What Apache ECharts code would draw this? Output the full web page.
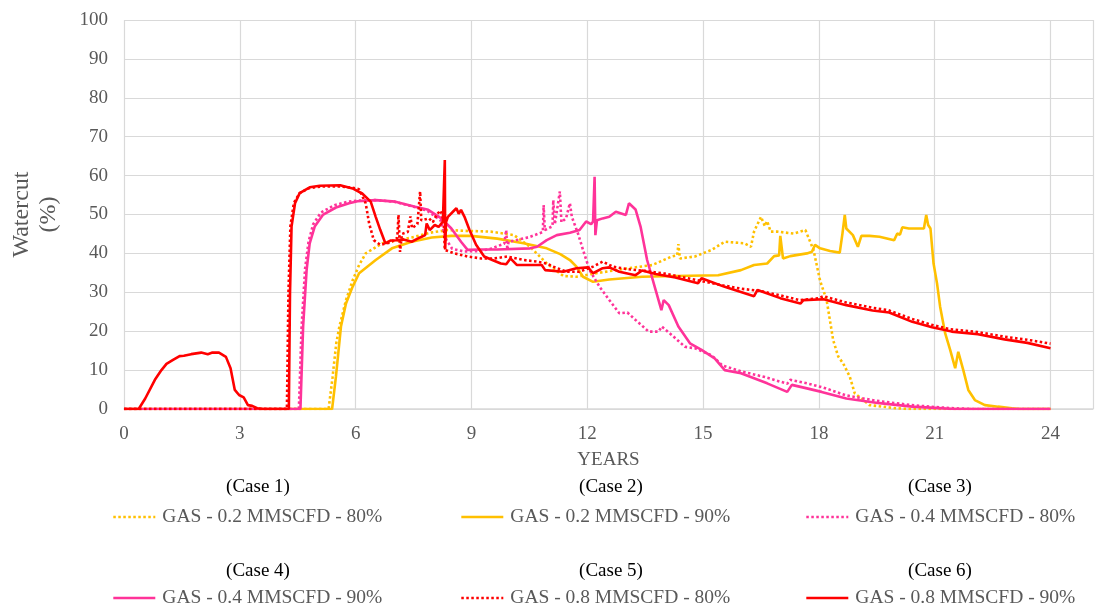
<!DOCTYPE html>
<html>
<head>
<meta charset="utf-8">
<script src="https://cdn.jsdelivr.net/npm/echarts@6/dist/echarts.min.js"></script>
<style>
  html, body { margin: 0; padding: 0; background: #ffffff; }
  #chart { width: 1096px; height: 607px; }
</style>
</head>
<body>
<div id="chart"></div>
<script>
// Watercut (%) against production time (years) for six gas-lift cases.
const seriesNames = [
  'GAS - 0.2 MMSCFD - 80%',
  'GAS - 0.2 MMSCFD - 90%',
  'GAS - 0.4 MMSCFD - 80%',
  'GAS - 0.4 MMSCFD - 90%',
  'GAS - 0.8 MMSCFD - 80%',
  'GAS - 0.8 MMSCFD - 90%'
];
const caseLabels = ['(Case 1)', '(Case 2)', '(Case 3)', '(Case 4)', '(Case 5)', '(Case 6)'];
const xTicks = [0, 3, 6, 9, 12, 15, 18, 21, 24];
const yTicks = [0, 10, 20, 30, 40, 50, 60, 70, 80, 90, 100];

// [years, watercut %]
const case1 = [[0,0],[5.3,0],[5.4,8],[5.5,17],[5.58,21.2],[5.75,28.0],[5.92,33],[6.09,37.0],[6.26,40.0],[6.69,42.6],[7.45,44.1],[7.97,45.4],[8.39,46.0],[8.82,45.8],[9.5,45.6],[10.1,44.7],[10.52,41.7],[10.95,37.4],[11.38,34.2],[11.72,34.0],[12.23,34.9],[12.74,35.7],[13.08,36.2],[13.68,37.0],[14.19,39.2],[14.33,39.5],[14.36,42.4],[14.4,38.7],[14.79,39.2],[15.22,40.9],[15.56,43.0],[16.07,42.6],[16.24,41.7],[16.32,45.6],[16.5,49.4],[16.6,47],[16.66,48.3],[16.75,45.6],[16.92,45.6],[17.35,45.1],[17.52,45.6],[17.65,46.0],[17.86,40.9],[18.03,33],[18.2,28.0],[18.37,17.7],[18.5,13.5],[18.63,11.7],[18.8,8.3],[18.93,4.0],[19.31,1.0],[19.99,0.2],[20.3,0],[24,0]];

const case2 = [[0,0],[5.39,0],[5.49,8.3],[5.62,21.2],[5.75,27.1],[5.92,31.4],[6.09,34.9],[6.52,38.3],[6.94,41.3],[7.45,43.0],[7.97,44.1],[8.48,44.5],[8.99,44.5],[9.67,43.8],[10.35,42.6],[10.95,41.3],[11.3,39.8],[11.55,38.3],[11.72,36.6],[11.89,34.0],[12.15,32.7],[12.57,33.3],[13.42,34.0],[14.28,34.2],[15.39,34.4],[15.98,35.7],[16.32,37.0],[16.66,37.4],[16.84,39.3],[16.97,39.5],[17.0,44.5],[17.07,38.7],[17.26,39.3],[17.69,40.0],[17.82,40.4],[17.9,42.2],[18.03,41.3],[18.29,40.6],[18.54,40.2],[18.61,45.1],[18.67,49.9],[18.71,46.4],[18.88,44.7],[19.01,41.7],[19.1,44.5],[19.31,44.5],[19.57,44.3],[19.95,43.4],[20.03,45.1],[20.1,44.8],[20.16,46.7],[20.33,46.4],[20.5,46.4],[20.72,46.4],[20.78,49.9],[20.83,47.3],[20.89,46.4],[20.97,37.4],[21.06,32.3],[21.14,26.3],[21.27,19.5],[21.4,15.2],[21.53,10.5],[21.61,14.7],[21.74,10.0],[21.87,4.9],[22.04,2.3],[22.3,1.0],[22.64,0.6],[23.0,0.2],[23.2,0],[24,0]];

const case3 = [[0,0],[4.53,0],[4.6,21],[4.69,36],[4.78,43],[4.9,47.5],[5.1,50.5],[5.45,52.4],[5.8,53.3],[6.1,53.6],[6.5,53.7],[7.0,53.3],[7.5,52.0],[7.85,51],[8.2,48.5],[8.35,43.5],[8.5,41.2],[8.8,40.5],[9.2,40.6],[9.5,41.2],[9.85,42.5],[9.9,46],[9.93,40.9],[9.96,43],[10.2,43.5],[10.5,44.2],[10.85,45.5],[10.87,52.4],[10.9,46],[11.1,47],[11.12,53.7],[11.16,47.5],[11.29,55.9],[11.33,48],[11.45,49],[11.55,52.9],[11.6,49.4],[11.76,45.1],[11.89,40.9],[12.06,35.7],[12.32,31.4],[12.57,28.0],[12.83,24.6],[13.04,24.8],[13.25,22.9],[13.59,19.9],[13.85,19.9],[13.93,21.2],[14.19,19.0],[14.53,16.0],[14.79,15.6],[15.22,13.8],[15.5,11.2],[15.73,10.5],[15.98,9.7],[16.6,8.2],[17.18,6.5],[17.26,7.5],[17.69,6.6],[18.12,5.5],[18.7,3.5],[19.5,2.1],[20.4,1.0],[21.0,0.5],[21.5,0.2],[22.0,0],[24,0]];

const case4 = [[0,0],[4.57,0],[4.64,21.2],[4.73,35.7],[4.81,42.6],[4.94,46.9],[5.15,49.9],[5.49,51.8],[5.83,52.9],[6.05,53.4],[6.52,53.7],[7.03,53.3],[7.54,52.0],[7.88,51.2],[8.22,49.0],[8.48,46.4],[8.73,43.0],[8.9,40.9],[9.25,41.0],[9.67,41.0],[10.52,41.3],[10.7,41.7],[10.95,43.4],[11.21,44.7],[11.55,45.3],[11.8,46.0],[11.97,48.2],[12.1,47.5],[12.15,48.2],[12.19,59.7],[12.21,44.7],[12.25,48.5],[12.4,49.0],[12.57,49.4],[12.74,50.7],[13.0,49.9],[13.08,52.9],[13.25,51.3],[13.38,46.9],[13.55,38.3],[13.77,30.6],[13.92,25.4],[13.98,28.0],[14.11,26.7],[14.36,21.2],[14.66,16.9],[14.96,15.2],[15.3,13.0],[15.56,10.0],[15.98,9.2],[16.66,6.6],[17.18,4.4],[17.3,6.2],[17.69,5.3],[18.07,4.4],[18.71,2.7],[19.57,1.5],[20.42,0.6],[21.0,0.3],[21.5,0],[24,0]];

const case5 = [[0,0],[4.22,0],[4.26,30],[4.31,47],[4.4,53],[4.55,55.5],[4.8,56.8],[5.1,57.2],[5.6,57.2],[5.9,56.9],[6.09,56.5],[6.26,52.9],[6.35,47.7],[6.47,43.4],[6.64,42.2],[6.9,42.8],[7.08,44],[7.11,49.9],[7.15,40.4],[7.2,45],[7.35,45.5],[7.42,49.5],[7.46,46.5],[7.6,47.5],[7.67,55.9],[7.7,48.5],[7.9,49],[8.0,48],[8.1,50],[8.2,51],[8.28,48.5],[8.31,40.9],[8.56,40.0],[8.9,39.2],[9.25,38.7],[9.59,38.7],[9.93,39.2],[10.35,38.3],[10.7,37.9],[10.95,37.4],[11.12,36.6],[11.46,35.3],[11.8,35.3],[12.15,36.6],[12.4,37.9],[12.66,36.6],[13.0,36.0],[13.5,35.5],[14.0,34.8],[14.5,33.8],[15.0,32.8],[15.5,31.8],[16.0,30.9],[16.5,30.3],[17.0,29.2],[17.5,28.0],[18.0,28.5],[18.12,29.0],[18.7,27.4],[19.4,26.0],[19.8,25.4],[20.4,23.2],[20.9,21.7],[21.4,20.5],[22.1,19.8],[22.8,18.6],[23.4,17.8],[24.0,16.8]];

const case6 = [[0,0],[0.38,0],[0.55,2.7],[0.8,7.5],[0.97,10],[1.1,11.6],[1.27,12.6],[1.44,13.6],[1.55,13.7],[1.74,14.1],[2.0,14.5],[2.17,14.1],[2.29,14.5],[2.46,14.5],[2.64,13.4],[2.76,10.5],[2.87,4.9],[2.98,3.6],[3.1,3.0],[3.21,1.0],[3.32,0.8],[3.45,0.2],[3.6,0],[4.27,0],[4.3,29.8],[4.34,46.9],[4.43,52.9],[4.55,55.5],[4.81,57.0],[5.07,57.4],[5.6,57.5],[5.92,56.7],[6.17,55.4],[6.39,53.3],[6.52,49.4],[6.64,46.0],[6.77,42.6],[6.9,43.3],[7.07,43.4],[7.24,43.6],[7.45,43.0],[7.67,44.1],[7.8,44.7],[7.84,47.7],[7.92,46.0],[8.05,47.3],[8.15,46.8],[8.26,48.2],[8.3,48.5],[8.31,64.0],[8.32,41],[8.34,48],[8.39,49.4],[8.52,50.7],[8.61,51.6],[8.67,50.2],[8.73,51.2],[8.82,49.4],[8.95,46.0],[9.12,42.2],[9.33,39.2],[9.54,38.3],[9.76,37.4],[9.9,37.2],[10.01,38.7],[10.18,37.0],[10.44,37.0],[10.82,37.0],[10.91,35.7],[11.38,35.3],[11.72,36.2],[12.02,36.4],[12.15,34.9],[12.4,36.2],[12.57,36.4],[12.83,35.3],[13.25,34.4],[13.42,35.6],[13.77,34.7],[14.28,33.8],[14.87,32.3],[14.96,33.6],[15.56,31.4],[16.32,29.0],[16.41,30.6],[17.0,28.5],[17.52,27.1],[17.6,28.0],[18.12,28.2],[18.71,26.7],[19.39,25.3],[19.82,24.8],[20.42,22.4],[20.93,21.0],[21.44,19.9],[22.12,19.2],[22.81,17.9],[23.4,17.0],[24.0,15.6]];

const caseData = [case1, case2, case3, case4, case5, case6];
const caseColors = ['#FFC000', '#FFC000', '#FF3399', '#FF3399', '#FF0000', '#FF0000'];
const caseDotted = [true, false, true, false, true, false];

const FONT = '"Liberation Serif", "Times New Roman", serif';
const GREY = '#595959';

const series = caseData.map((d, i) => ({
  name: seriesNames[i],
  type: 'line',
  data: d,
  showSymbol: false,
  symbol: 'none',
  smooth: false,
  animation: false,
  lineStyle: {
    color: caseColors[i],
    width: 2.6,
    type: caseDotted[i] ? [2.5, 2.5] : 'solid'
  },
  itemStyle: { color: caseColors[i] },
  z: 2 + i
}));

// legend layout: three columns, two rows, each entry under its case caption
const colLeft = [112, 460, 805];
const colCenter = [258, 611, 940];
const rowLegendTop = [507, 588];
const rowCaptionY = [487, 571];

const legends = seriesNames.map((n, i) => ({
  data: [n],
  left: colLeft[i % 3],
  top: rowLegendTop[Math.floor(i / 3)],
  itemWidth: 42,
  itemHeight: 14,
  padding: 0,
  selectedMode: false,
  itemStyle: { opacity: 0, color: 'transparent', borderWidth: 0 },
  lineStyle: { width: 2.6 },
  textStyle: { fontFamily: FONT, fontSize: 19.5, color: GREY, padding: [0, 0, 0, 2] }
}));

const captions = caseLabels.map((t, i) => ({
  type: 'text',
  x: colCenter[i % 3],
  y: rowCaptionY[Math.floor(i / 3)],
  style: {
    text: t,
    fontFamily: FONT,
    fontSize: 19,
    fill: '#000000',
    textAlign: 'center',
    textVerticalAlign: 'middle'
  }
}));

const chart = echarts.init(document.getElementById('chart'), null, { renderer: 'canvas' });
chart.setOption({
  backgroundColor: '#ffffff',
  animation: false,
  grid: { left: 122, top: 20, bottom: 198, right: -7, containLabel: false },
  xAxis: {
    type: 'value',
    min: 0,
    max: 25.1,
    interval: 3,
    name: 'YEARS',
    nameLocation: 'middle',
    nameGap: 42,
    nameTextStyle: { fontFamily: FONT, fontSize: 19, color: GREY },
    axisLine: { show: true, lineStyle: { color: '#d9d9d9', width: 1.5 } },
    axisTick: { show: false },
    axisLabel: {
      margin: 16,
      fontFamily: FONT, fontSize: 19, color: GREY,
      formatter: v => (xTicks.indexOf(v) >= 0 ? String(v) : '')
    },
    splitLine: { show: true, lineStyle: { color: '#d9d9d9', width: 1.2 } }
  },
  yAxis: {
    type: 'value',
    min: 0,
    max: 100,
    interval: 10,
    name: 'Watercut\n(%)',
    nameLocation: 'middle',
    nameRotate: 90,
    nameGap: 62,
    nameTextStyle: { fontFamily: FONT, fontSize: 24, color: GREY, lineHeight: 27 },
    axisLine: { show: false },
    axisTick: { show: false },
    axisLabel: {
      margin: 16,
      fontFamily: FONT, fontSize: 19, color: GREY,
      formatter: v => (yTicks.indexOf(v) >= 0 ? String(v) : '')
    },
    splitLine: { show: true, lineStyle: { color: '#d9d9d9', width: 1.2 } }
  },
  legend: legends,
  graphic: captions,
  series: series
});
</script>
</body>
</html>
